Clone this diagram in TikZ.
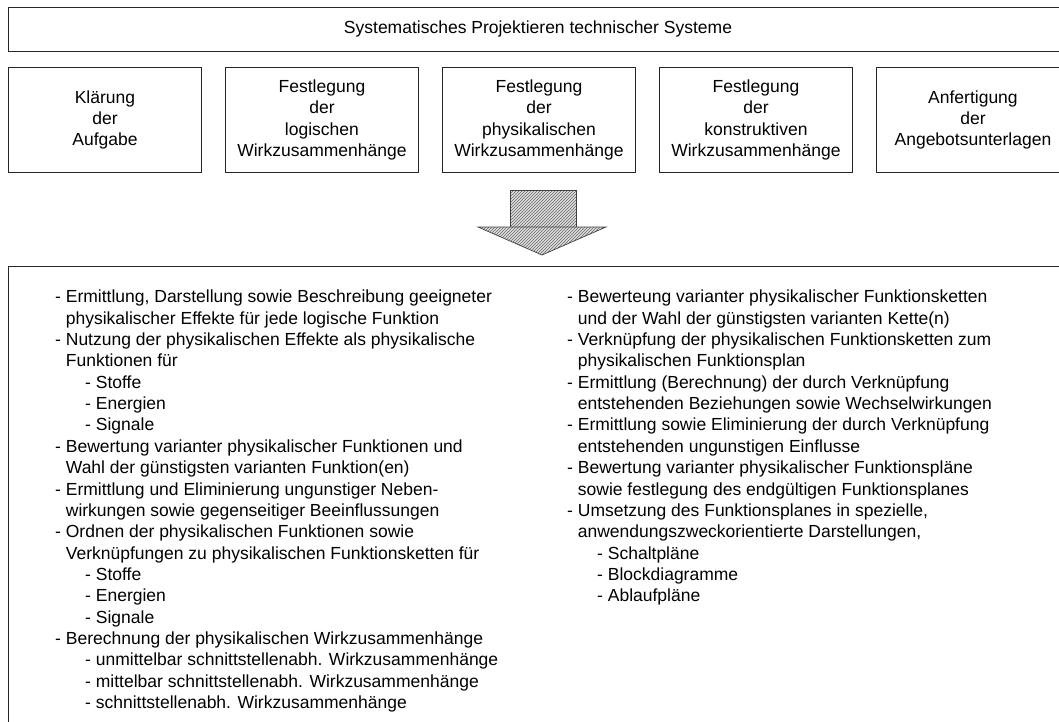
\documentclass[tikz,border=0pt]{standalone}
\usepackage{fontspec}
\setmainfont{Liberation Sans}
\usetikzlibrary{patterns}
% indentation helpers for the bullet lists
\newcommand{\contind}{\hphantom{-\ }}
\newcommand{\subind}{\hspace*{30pt}}
\begin{document}
\begin{tikzpicture}[x=1pt,y=-1pt,
  font=\fontsize{17.5}{21.35}\selectfont,
  frame/.style={draw=black!85,line width=0.9pt},
  stepbox/.style={frame,minimum width=193pt,minimum height=105pt,inner sep=0pt,
    align=center,anchor=north west},
  listtext/.style={inner sep=0pt,align=left,anchor=north west},
  hatched/.style={draw=black!75,line width=0.7pt,preaction={fill=black!12},
    pattern=north east lines,pattern color=black!60}]
\useasboundingbox (0,0) rectangle (1059,722);
\clip (0,0) rectangle (1059,722);

% headline
\node[frame,anchor=north west,minimum width=1061pt,minimum height=44pt,inner sep=0pt]
  (title) at (8,7) {};
\node (titletext) at (538,29) {Systematisches Projektieren technischer Systeme};

% the five project phases
\node[stepbox] (s1) at (8,67)   {Klärung\\der\\Aufgabe};
\node[stepbox] (s2) at (225,67) {Festlegung\\der\\logischen\\Wirkzusammenhänge};
\node[stepbox] (s3) at (442,67) {Festlegung\\der\\physikalischen\\Wirkzusammenhänge};
\node[stepbox] (s4) at (659,67) {Festlegung\\der\\konstruktiven\\Wirkzusammenhänge};
\node[stepbox] (s5) at (876,67) {Anfertigung\\der\\Angebotsunterlagen};

% block arrow pointing to the detail box
\draw[hatched] (510,190) rectangle (576,227);
\draw[hatched] (478,227) -- (606,227) -- (542,255) -- cycle;

% detail box for the physical phase
\node[frame,anchor=north west,minimum width=1062pt,minimum height=494pt,inner sep=0pt]
  (detail) at (8,266) {};

\node[listtext] (left) at (55,290) {%
- Ermittlung, Darstellung sowie Beschreibung geeigneter\\
\contind physikalischer Effekte für jede logische Funktion\\
- Nutzung der physikalischen Effekte als physikalische\\
\contind Funktionen für\\
\subind - Stoffe\\
\subind - Energien\\
\subind - Signale\\
- Bewertung varianter physikalischer Funktionen und\\
\contind Wahl der günstigsten varianten Funktion(en)\\
- Ermittlung und Eliminierung ungunstiger Neben-\\
\contind wirkungen sowie gegenseitiger Beeinflussungen\\
- Ordnen der physikalischen Funktionen sowie\\
\contind Verknüpfungen zu physikalischen Funktionsketten für\\
\subind - Stoffe\\
\subind - Energien\\
\subind - Signale\\
- Berechnung der physikalischen Wirkzusammenhänge\\
\subind - unmittelbar schnittstellenabh. Wirkzusammenhänge\\
\subind - mittelbar schnittstellenabh. Wirkzusammenhänge\\
\subind - schnittstellenabh. Wirkzusammenhänge};

\node[listtext] (right) at (567,290) {%
- Bewerteung varianter physikalischer Funktionsketten\\
\contind und der Wahl der günstigsten varianten Kette(n)\\
- Verknüpfung der physikalischen Funktionsketten zum\\
\contind physikalischen Funktionsplan\\
- Ermittlung (Berechnung) der durch Verknüpfung\\
\contind entstehenden Beziehungen sowie Wechselwirkungen\\
- Ermittlung sowie Eliminierung der durch Verknüpfung\\
\contind entstehenden ungunstigen Einflusse\\
- Bewertung varianter physikalischer Funktionspläne\\
\contind sowie festlegung des endgültigen Funktionsplanes\\
- Umsetzung des Funktionsplanes in spezielle,\\
\contind anwendungszweckorientierte Darstellungen,\\
\subind - Schaltpläne\\
\subind - Blockdiagramme\\
\subind - Ablaufpläne};
\end{tikzpicture}
\end{document}
